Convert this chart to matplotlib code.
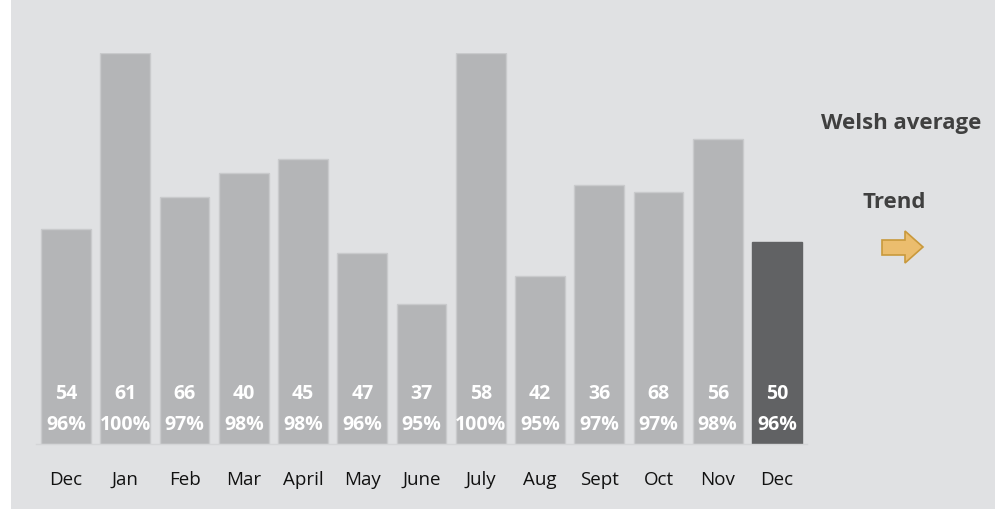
import matplotlib
matplotlib.use("Agg")
import matplotlib.pyplot as plt
from matplotlib.patches import Polygon

plt.rcParams['font.family'] = ['Open Sans', 'DejaVu Sans']

months = ["Dec", "Jan", "Feb", "Mar", "April", "May", "June", "July", "Aug", "Sept", "Oct", "Nov", "Dec"]
pct_values = [96.41, 100.0, 97.06, 97.55, 97.84, 95.92, 94.86, 100.0, 95.43, 97.31, 97.15, 98.24, 96.14]
pct_labels = ["96%", "100%", "97%", "98%", "98%", "96%", "95%", "100%", "95%", "97%", "97%", "98%", "96%"]
counts = [54, 61, 66, 40, 45, 47, 37, 58, 42, 36, 68, 56, 50]

W, H = 1004, 510
fig = plt.figure(figsize=(W / 100, H / 100), dpi=100, facecolor="white")

# background panel
bg = fig.add_axes([11 / W, 0, (995 - 11) / W, 1], zorder=-10)
bg.set_facecolor("#e0e1e3")
bg.set_xticks([]); bg.set_yticks([])
for s in bg.spines.values():
    s.set_visible(False)

ax = fig.add_axes([36.4 / W, (H - 445) / H, 770.2 / W, 390.7 / H], zorder=1)
ax.set_facecolor("none")
x = list(range(len(months)))
colors = ["#b4b5b7"] * (len(months) - 1) + ["#616264"]
edges = ["#c9cacc"] * (len(months) - 1) + ["#616264"]
ax.bar(x, [v - 92 for v in pct_values], bottom=92, width=0.84, color=colors,
       edgecolor=edges, linewidth=1.0, zorder=2)
ax.set_xlim(-0.5, len(months) - 0.5)
ax.set_ylim(92, 100)

for s in ["top", "right", "left"]:
    ax.spines[s].set_visible(False)
ax.spines["bottom"].set_color("#d4d5d7")
ax.spines["bottom"].set_linewidth(1.0)
ax.set_yticks([])
ax.set_xticks(x)
ax.set_xticklabels(months, fontsize=13.5, color="#111111")
ax.tick_params(axis="x", length=0, pad=18.5)

for xi, c, p in zip(x, counts, pct_labels):
    ax.annotate(str(c), (xi, 0.1306), xycoords=("data", "axes fraction"),
                ha="center", va="center", fontsize=14, fontweight="bold", color="white", zorder=3)
    ax.annotate(p, (xi, 0.0512), xycoords=("data", "axes fraction"),
                ha="center", va="center", fontsize=14, fontweight="bold", color="white", zorder=3)

fig.text(901 / W, 1 - 124 / H, "Welsh average", ha="center", va="center",
         fontsize=16, fontweight="bold", color="#404040", zorder=5)
fig.text(894 / W, 1 - 203 / H, "Trend", ha="center", va="center",
         fontsize=16, fontweight="bold", color="#404040", zorder=5)

arrow_px = [(882, 241), (905, 241), (905, 232), (923, 248), (905, 264), (905, 256), (882, 256)]
arrow = Polygon([(px / W, 1 - py / H) for px, py in arrow_px], closed=True,
                transform=fig.transFigure, facecolor="#ebbd6e", edgecolor="#c9993c",
                linewidth=1.2, zorder=5)
fig.patches.append(arrow)

fig.savefig("out.png", dpi=100, facecolor="white")
